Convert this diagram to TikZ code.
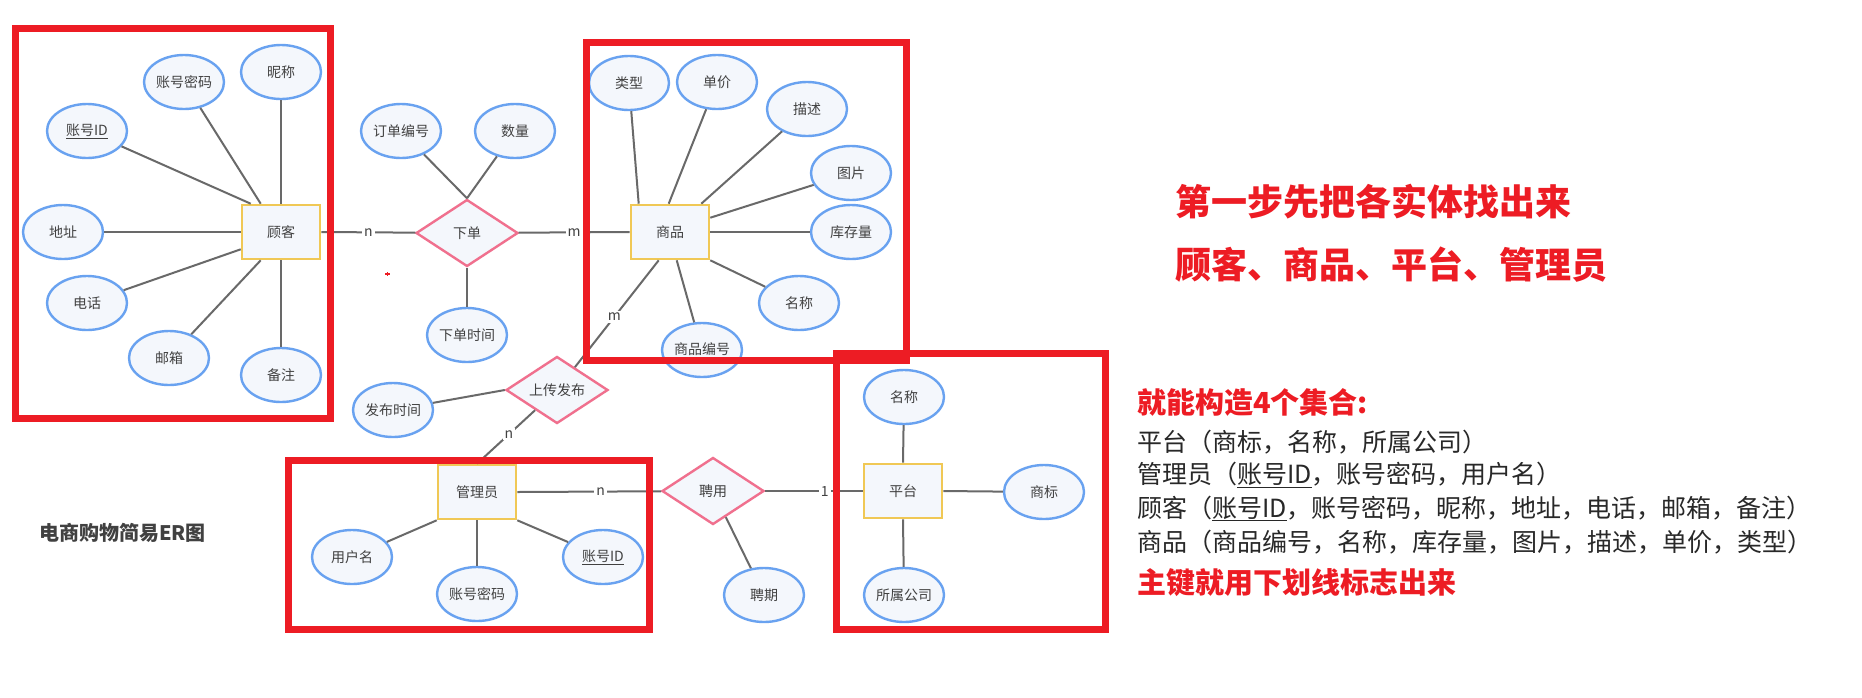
\documentclass[tikz,border=0pt]{standalone}
\usepackage{fontspec}
\setmainfont{Noto Sans CJK SC}
\usetikzlibrary{shapes.geometric,calc}
\definecolor{attrblue}{RGB}{105,162,240}
\definecolor{shapefill}{RGB}{244,247,252}
\definecolor{entyellow}{RGB}{240,200,85}
\definecolor{relpink}{RGB}{240,112,142}
\definecolor{linegray}{RGB}{105,105,105}
\definecolor{txtgray}{RGB}{65,65,65}
\definecolor{mkred}{RGB}{237,28,36}
\tikzset{
  attr/.style={ellipse,draw=attrblue,fill=shapefill,line width=2.4pt,minimum width=80pt,minimum height=54pt,inner sep=0pt,text=txtgray,font=\fontsize{14}{16}\selectfont},
  ent/.style={rectangle,draw=entyellow,fill=shapefill,line width=2.6pt,minimum width=78pt,minimum height=54pt,inner sep=0pt,text=txtgray,font=\fontsize{14}{16}\selectfont},
  rel/.style={diamond,draw=relpink,fill=shapefill,line width=2.4pt,minimum width=102pt,minimum height=67pt,aspect=1.55,inner sep=0pt,text=txtgray,font=\fontsize{14}{16}\selectfont},
  conn/.style={draw=linegray,line width=2pt},
  lbl/.style={fill=white,inner sep=2pt,text=txtgray,font=\fontsize{14}{16}\selectfont},
  redbox/.style={draw=mkred,line width=7pt},
  redtxt/.style={text=mkred,anchor=west,inner sep=0pt,font=\bfseries\fontsize{29}{32}\selectfont},
  bigred/.style={text=mkred,anchor=west,inner sep=0pt,font=\bfseries\fontsize{36}{40}\selectfont},
  blacktxt/.style={text={rgb,255:red,40;green,40;blue,40},anchor=west,inner sep=0pt,font=\fontsize{25}{28}\selectfont}
}
\begin{document}
\begin{tikzpicture}[x=1pt,y=-1pt]
\useasboundingbox (0,0) rectangle (1862,697);
\fill[white] (0,0) rectangle (1862,697);

% ---------- customer ----------
\node[ent] (cust) at (281,232) {顾客};
\node[attr] (cpwd) at (184,82) {账号密码};
\node[attr] (cnick) at (281,72) {昵称};
\node[attr] (cid) at (87,131) {\underline{账号ID}};
\node[attr] (caddr) at (63,232) {地址};
\node[attr] (ctel) at (87,303) {电话};
\node[attr] (cmail) at (169,358) {邮箱};
\node[attr] (cnote) at (281,375) {备注};

% ---------- order ----------
\node[rel] (order) at (467,233) {下单};
\node[attr] (ono) at (401,131) {订单编号};
\node[attr] (oqty) at (515,131) {数量};
\node[attr] (otime) at (467,335) {下单时间};

% ---------- product ----------
\node[ent] (prod) at (670,232) {商品};
\node[attr] (ptype) at (629,83) {类型};
\node[attr] (pprice) at (717,82) {单价};
\node[attr] (pdesc) at (807,109) {描述};
\node[attr] (ppic) at (851,173) {图片};
\node[attr] (pstock) at (851,232) {库存量};
\node[attr] (pname) at (799,303) {名称};
\node[attr] (pno) at (702,350) {\underline{商品编号}};

% ---------- upload ----------
\node[rel] (upload) at (557,390) {上传发布};
\node[attr] (utime) at (393,410) {发布时间};

% ---------- manager ----------
\node[ent] (mgr) at (477,492) {管理员};
\node[attr] (muser) at (352,557) {用户名};
\node[attr] (mpwd) at (477,594) {账号密码};
\node[attr] (mid) at (603,557) {\underline{账号ID}};

% ---------- hire ----------
\node[rel] (hire) at (713,491) {聘用};
\node[attr] (hterm) at (764,595) {聘期};

% ---------- platform ----------
\node[ent] (plat) at (903,491) {平台};
\node[attr] (plname) at (904,397) {名称};
\node[attr] (pllogo) at (1044,492) {商标};
\node[attr] (plcomp) at (904,595) {所属公司};

% ---------- connectors ----------
\path[conn] (cid) -- ($(cust.north west)+(10,0)$);
\path[conn] (cpwd) -- ($(cust.north west)+(20,0)$);
\path[conn] (cnick) -- (cust.north);
\path[conn] (caddr) -- (cust.west);
\path[conn] (ctel) -- ($(cust.south west)+(0,-11)$);
\path[conn] (cmail) -- ($(cust.south west)+(20,0)$);
\path[conn] (cnote) -- (cust.south);

\path[conn] (ono) -- (order.north);
\path[conn] (oqty) -- (order.north);
\path[conn] (otime) -- (order.south);
\path[conn] (cust.east) -- node[lbl,pos=0.5]{n} (order);
\path[conn] (order) -- node[lbl,pos=0.5]{m} (prod.west);

\path[conn] (ptype) -- ($(prod.north west)+(9,0)$);
\path[conn] (pprice) -- ($(prod.north west)+(39,0)$);
\path[conn] (pdesc) -- ($(prod.north east)+(-9,0)$);
\path[conn] (ppic) -- ($(prod.north east)+(0,14)$);
\path[conn] (pstock) -- (prod.east);
\path[conn] (pname) -- (prod.south east);
\path[conn] (pno) -- ($(prod.south west)+(47,0)$);

\path[conn] ($(prod.south west)+(29,0)$) -- node[lbl,pos=0.53]{m} (upload);
\path[conn] (utime) -- (upload.west);
\path[conn] (upload) -- node[lbl,pos=0.45]{n} (mgr.north);

\path[conn] (muser) -- (mgr.south west);
\path[conn] (mpwd) -- (mgr.south);
\path[conn] (mid) -- (mgr.south east);
\path[conn] (mgr.east) -- node[lbl,pos=0.58]{n} (hire);
\path[conn] (hire) -- node[lbl,pos=0.61]{1} (plat.west);
\path[conn] (hire) -- (hterm);

\path[conn] (plname) -- (plat.north);
\path[conn] (pllogo) -- (plat.east);
\path[conn] (plcomp) -- (plat.south);

% tiny red mark
\draw[mkred,line width=1.2pt] (385,274) -- (390,274) (387.5,272) -- (387.5,276);

% ---------- red boxes ----------
\draw[redbox] (15.5,28.5) rectangle (330.5,418.5);
\draw[redbox] (586.5,42.5) rectangle (906.5,360.5);
\draw[redbox] (288.5,460.5) rectangle (649.5,629.5);
\draw[redbox] (836.5,353.5) rectangle (1105.5,629.5);

% ---------- texts ----------
\node[anchor=west,inner sep=0pt,text=txtgray,font=\bfseries\fontsize{20}{22}\selectfont] (title) at (39,533) {电商购物简易ER图};

\node[bigred] (step1) at (1175,202) {第一步先把各实体找出来};
\node[bigred] (ents) at (1175,265) {顾客、商品、平台、管理员};

\node[redtxt] (sets) at (1137,402) {就能构造4个集合:};
\node[blacktxt] (s1) at (1137,442) {平台（商标，名称，所属公司）};
\node[blacktxt] (s2) at (1137,475) {管理员（\underline{账号ID}，账号密码，用户名）};
\node[blacktxt] (s3) at (1137,508.5) {顾客（\underline{账号ID}，账号密码，昵称，地址，电话，邮箱，备注）};
\node[blacktxt] (s4) at (1137,542) {商品（商品编号，名称，库存量，图片，描述，单价，类型）};
\node[redtxt] (pk) at (1137,583) {主键就用下划线标志出来};
\end{tikzpicture}
\end{document}
